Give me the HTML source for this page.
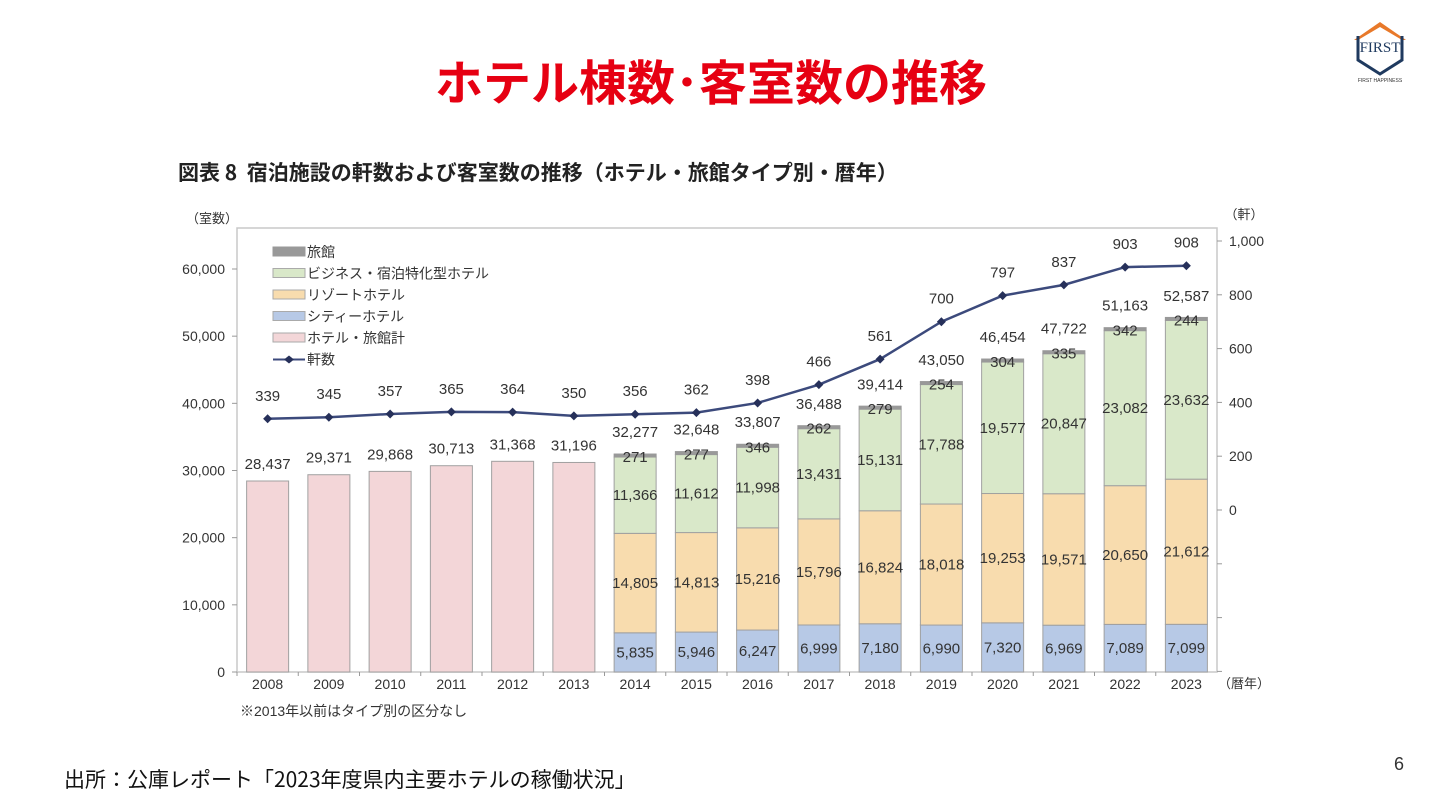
<!DOCTYPE html>
<html><head><meta charset="utf-8">
<style>
html,body{margin:0;padding:0;background:#fff;}
body{width:1440px;height:810px;position:relative;overflow:hidden;font-family:"Liberation Sans","Noto Sans CJK JP",sans-serif;}
.abs{position:absolute;}
</style></head>
<body>
<div class="abs" style="left:0;width:1422px;top:44px;text-align:center;font-size:48px;font-weight:bold;color:#e60012;font-family:'Noto Sans CJK JP',sans-serif;">ホテル棟数･客室数の推移</div>
<svg class="abs" style="left:1340px;top:14px" width="80" height="72" viewBox="0 0 80 72">
<path d="M14 26 L40 8 L66 26 L62 26 L40 13 L18 26Z" fill="#e8792a"/>
<path d="M18 22 L18 46 L40 60 L62 46 L62 22" fill="none" stroke="#1f3a5f" stroke-width="3"/>
<text x="40" y="38" font-size="15" text-anchor="middle" fill="#1f3a5f" font-family="Liberation Serif">FIRST</text>
<text x="40" y="68" font-size="5" text-anchor="middle" fill="#333">FIRST HAPPINESS</text>
</svg>
<div class="abs" style="left:178px;top:157px;font-size:21px;font-weight:bold;color:#222;font-family:'Noto Sans CJK JP',sans-serif;">図表 8&nbsp; 宿泊施設の軒数および客室数の推移（ホテル・旅館タイプ別・暦年）</div>
<svg class="abs" style="left:0;top:0" width="1440" height="810" id="chart"></svg>
<div class="abs" style="left:64px;top:764px;font-size:21px;color:#111;font-family:'Noto Sans CJK JP',sans-serif;">出所：公庫レポート「2023年度県内主要ホテルの稼働状況」</div>
<div class="abs" style="left:1394px;top:754px;font-size:18px;color:#333;">6</div>
<script>
const years=['2008','2009','2010','2011','2012','2013','2014','2015','2016','2017','2018','2019','2020','2021','2022','2023'];
const totals=[28437,29371,29868,30713,31368,31196,32277,32648,33807,36488,39414,43050,46454,47722,51163,52587];
const city=[0,0,0,0,0,0,5835,5946,6247,6999,7180,6990,7320,6969,7089,7099];
const resort=[0,0,0,0,0,0,14805,14813,15216,15796,16824,18018,19253,19571,20650,21612];
const business=[0,0,0,0,0,0,11366,11612,11998,13431,15131,17788,19577,20847,23082,23632];
const ryokan=[0,0,0,0,0,0,271,277,346,262,279,254,304,335,342,244];
const counts=[339,345,357,365,364,350,356,362,398,466,561,700,797,837,903,908];
const leftTicks=[0,10000,20000,30000,40000,50000,60000];
const rightTicks=[0,200,400,600,800,1000];

const NS='http://www.w3.org/2000/svg';
const svg=document.getElementById('chart');
const X0=237,X1=1217,Y0=672,YT=228;
const step=(X1-X0)/years.length, bw=42;
const yL=v=>Y0-v*(Y0-269)/60000;
const yR=v=>510-v*(510-241)/1000;
const xc=i=>X0+step*(i+0.5);
const fmt=v=>v.toLocaleString('en-US');
function mk(tag,attrs,parent){const e=document.createElementNS(NS,tag);for(const k in attrs)e.setAttribute(k,attrs[k]);(parent||svg).appendChild(e);return e;}
function txt(x,y,s,opt){const t=mk('text',Object.assign({x:x,y:y,'font-size':15,fill:'#333','text-anchor':'middle','font-family':'Liberation Sans, Noto Sans CJK JP, sans-serif'},opt||{}));t.textContent=s;return t;}

const frame=mk('rect',{x:X0,y:YT,width:X1-X0,height:Y0-YT,fill:'none',stroke:'#c8c8c8','stroke-width':1.5});


leftTicks.forEach(v=>{mk('line',{x1:X0-5,x2:X0,y1:yL(v),y2:yL(v),stroke:'#999'});
 const t=txt(X0-12,yL(v)+5,fmt(v),{'text-anchor':'end','font-size':14});});
for(let k=-3;k<=5;k++){const v=k*200;mk('line',{x1:X1,x2:X1+5,y1:yR(v),y2:yR(v),stroke:'#999'});}
rightTicks.forEach(v=>{const t=txt(X1+12,yR(v)+5,fmt(v),{'text-anchor':'start','font-size':14});});
txt(212,223,'（室数）',{'font-size':13});
txt(1244,219,'（軒）',{'font-size':13});
txt(1244,688,'（暦年）',{'font-size':13});
txt(240,716,'※2013年以前はタイプ別の区分なし',{'font-size':14,'text-anchor':'start'});

years.forEach((y,i)=>{
 mk('line',{x1:X0+step*i,x2:X0+step*i,y1:Y0,y2:Y0+4,stroke:'#999'});
 const t=txt(xc(i),Y0+17,y,{'font-size':14});
 const x=xc(i)-bw/2;
 if(city[i]===0){
  const r=mk('rect',{x:x,y:yL(totals[i]),width:bw,height:Y0-yL(totals[i]),fill:'#f3d6d8',stroke:'#a0a0a0'});
  
 } else {
  let base=0;
  const segs=[[city,'#b7c9e6','city'],[resort,'#f8dcae','resort'],[business,'#d9e8c9','business']];
  segs.forEach(([arr,col,nm])=>{
   const y1=yL(base),y2=yL(base+arr[i]);
   const r=mk('rect',{x:x,y:y2,width:bw,height:y1-y2,fill:col,stroke:'#a0a0a0'});
   
   const l=txt(xc(i),(y1+y2)/2+5,fmt(arr[i]));
   base+=arr[i];
  });
  const yt=yL(base+ryokan[i]);const h=Math.max(3,yL(base)-yt);
  const r=mk('rect',{x:x,y:yL(base)-h,width:bw,height:h,fill:'#999',stroke:'#999'});
  
  const l=txt(xc(i),yL(base)+5,fmt(ryokan[i]));
 }
 const tl=txt(xc(i),yL(totals[i])-(city[i]?18:12),fmt(totals[i]));
});

const pts=counts.map((c,i)=>xc(i)+','+yR(c)).join(' ');
const pl=mk('polyline',{points:pts,fill:'none',stroke:'#3c4a7c','stroke-width':2.5});

counts.forEach((c,i)=>{
 const d=mk('path',{d:`M${xc(i)-4.5},${yR(c)} L${xc(i)},${yR(c)-4.5} L${xc(i)+4.5},${yR(c)} L${xc(i)},${yR(c)+4.5}Z`,fill:'#26305a'});
 
 const l=txt(xc(i),yR(c)-18,fmt(c));
});

const leg=[['旅館','#999'],['ビジネス・宿泊特化型ホテル','#d9e8c9'],['リゾートホテル','#f8dcae'],['シティーホテル','#b7c9e6'],['ホテル・旅館計','#f3d6d8']];
leg.forEach(([n,c],k)=>{const y=252+k*21.5;
 const r=mk('rect',{x:273,y:y-5,width:32,height:9,fill:c,stroke:k===0?'#999':'#aaa'});
 const t=txt(307,y+5,n,{'text-anchor':'start','font-size':14});});
const ly=252+5*21.5;
mk('line',{x1:273,x2:305,y1:ly,y2:ly,stroke:'#3c4a7c','stroke-width':2});
mk('path',{d:`M284,${ly} L289,${ly-4} L294,${ly} L289,${ly+4}Z`,fill:'#26305a'});
const lt=txt(307,ly+5,'軒数',{'text-anchor':'start','font-size':14});
</script>
</body></html>
